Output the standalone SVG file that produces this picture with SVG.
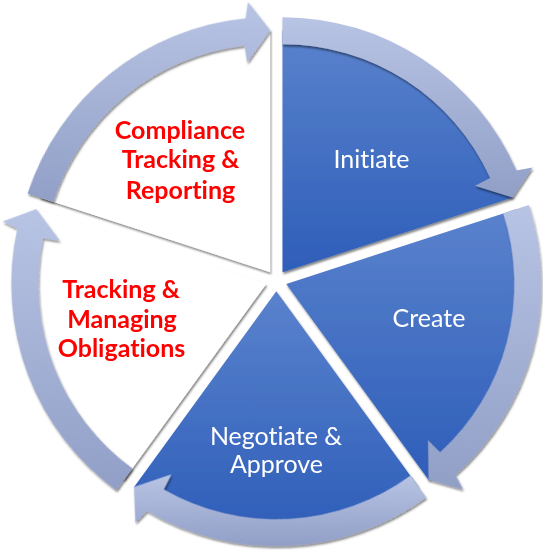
<svg xmlns="http://www.w3.org/2000/svg" xmlns:xlink="http://www.w3.org/1999/xlink" width="543" height="550" viewBox="0 0 543 550">
  <style>
    text { font-variant-ligatures: none; font-feature-settings: "liga" 0, "clig" 0; }
    .lbl-w { font-family: Lato, "Open Sans", "Liberation Sans", sans-serif; font-size: 25px; fill: #ffffff; text-anchor: middle; }
    .lbl-r { font-family: Lato, "Open Sans", "Liberation Sans", sans-serif; font-size: 25px; font-weight: bold; fill: #ff0000; text-anchor: middle; }
  </style>
  <defs>
    <filter id="sh" x="-10%" y="-10%" width="120%" height="120%">
      <feDropShadow dx="1" dy="2" stdDeviation="1.2" flood-color="#000000" flood-opacity="0.5"/>
    </filter>
    <linearGradient id="blue" x1="0" y1="0" x2="0" y2="1">
      <stop offset="0" stop-color="#5a82cd"/>
      <stop offset="1" stop-color="#2e5eb9"/>
    </linearGradient>
    <linearGradient id="ga0" gradientUnits="userSpaceOnUse" x1="0" y1="-255" x2="0" y2="-75">
      <stop offset="0" stop-color="#b8c4e4"/><stop offset="1" stop-color="#919fc7"/>
    </linearGradient>
    <linearGradient id="ga1" gradientUnits="userSpaceOnUse" x1="0" y1="-79" x2="0" y2="205" gradientTransform="rotate(-72)">
      <stop offset="0" stop-color="#b8c4e4"/><stop offset="1" stop-color="#919fc7"/>
    </linearGradient>
    <linearGradient id="ga2" gradientUnits="userSpaceOnUse" x1="0" y1="183" x2="0" y2="255" gradientTransform="rotate(-144)">
      <stop offset="0" stop-color="#b8c4e4"/><stop offset="1" stop-color="#919fc7"/>
    </linearGradient>
    <linearGradient id="ga3" gradientUnits="userSpaceOnUse" x1="0" y1="-75" x2="0" y2="206" gradientTransform="rotate(-216)">
      <stop offset="0" stop-color="#b8c4e4"/><stop offset="1" stop-color="#919fc7"/>
    </linearGradient>
    <linearGradient id="ga4" gradientUnits="userSpaceOnUse" x1="0" y1="-270" x2="0" y2="-70" gradientTransform="rotate(-288)">
      <stop offset="0" stop-color="#b8c4e4"/><stop offset="1" stop-color="#919fc7"/>
    </linearGradient>
    <path id="arrow" d="M0,-255 A255,255 0 0 1 233.85,-101.68 L250.01,-104.58 L230.16,-74.78 L192.46,-86.5 L207.64,-94.19 A228,228 0 0 0 0,-228 Z"/>
  </defs>

  <g id="initiate" filter="url(#sh)">
    <path d="M282.5,272.2 L282.5,30.2 A242,242 0 0 1 512.66,197.42 Z" fill="url(#blue)"/>
  </g>
  <g id="create" filter="url(#sh)">
    <path d="M286.3,283.9 L516.46,209.12 A242,242 0 0 1 428.54,479.68 Z" fill="url(#blue)"/>
  </g>
  <g id="negotiate" filter="url(#sh)">
    <path d="M276.3,291.2 L418.54,486.98 A242,242 0 0 1 134.06,486.98 Z" fill="url(#blue)"/>
  </g>
  <g id="tracking" filter="url(#sh)">
    <path d="M266.3,283.9 L124.06,479.68 A242,242 0 0 1 36.14,209.12 Z" fill="#ffffff"/>
  </g>
  <g id="compliance" filter="url(#sh)">
    <path d="M270.1,272.2 L39.94,197.42 A242,242 0 0 1 270.1,30.2 Z" fill="#ffffff"/>
  </g>

  <g id="connectors" filter="url(#sh)">
    <use xlink:href="#arrow" transform="translate(282.5,272.2)" fill="url(#ga0)"/>
    <use xlink:href="#arrow" transform="translate(286.3,283.9) rotate(72)" fill="url(#ga1)"/>
    <use xlink:href="#arrow" transform="translate(276.3,291.2) rotate(144)" fill="url(#ga2)"/>
    <use xlink:href="#arrow" transform="translate(266.3,283.9) rotate(216)" fill="url(#ga3)"/>
    <use xlink:href="#arrow" transform="translate(270.1,272.2) rotate(288)" fill="url(#ga4)"/>
  </g>

  <g id="labels">
    <text class="lbl-w" x="371.5" y="168">Initiate</text>
    <text class="lbl-w" x="429" y="327">Create</text>
    <text class="lbl-w" x="276" y="445">Negotiate &amp;</text>
    <text class="lbl-w" x="276.5" y="473">Approve</text>
    <text class="lbl-r" x="180" y="139">Compliance</text>
    <text class="lbl-r" x="180.5" y="168">Tracking &amp;</text>
    <text class="lbl-r" x="180.5" y="199">Reporting</text>
    <text class="lbl-r" x="121" y="298">Tracking &amp;</text>
    <text class="lbl-r" x="122" y="328">Managing</text>
    <text class="lbl-r" x="121.5" y="357">Obligations</text>
  </g>
</svg>
